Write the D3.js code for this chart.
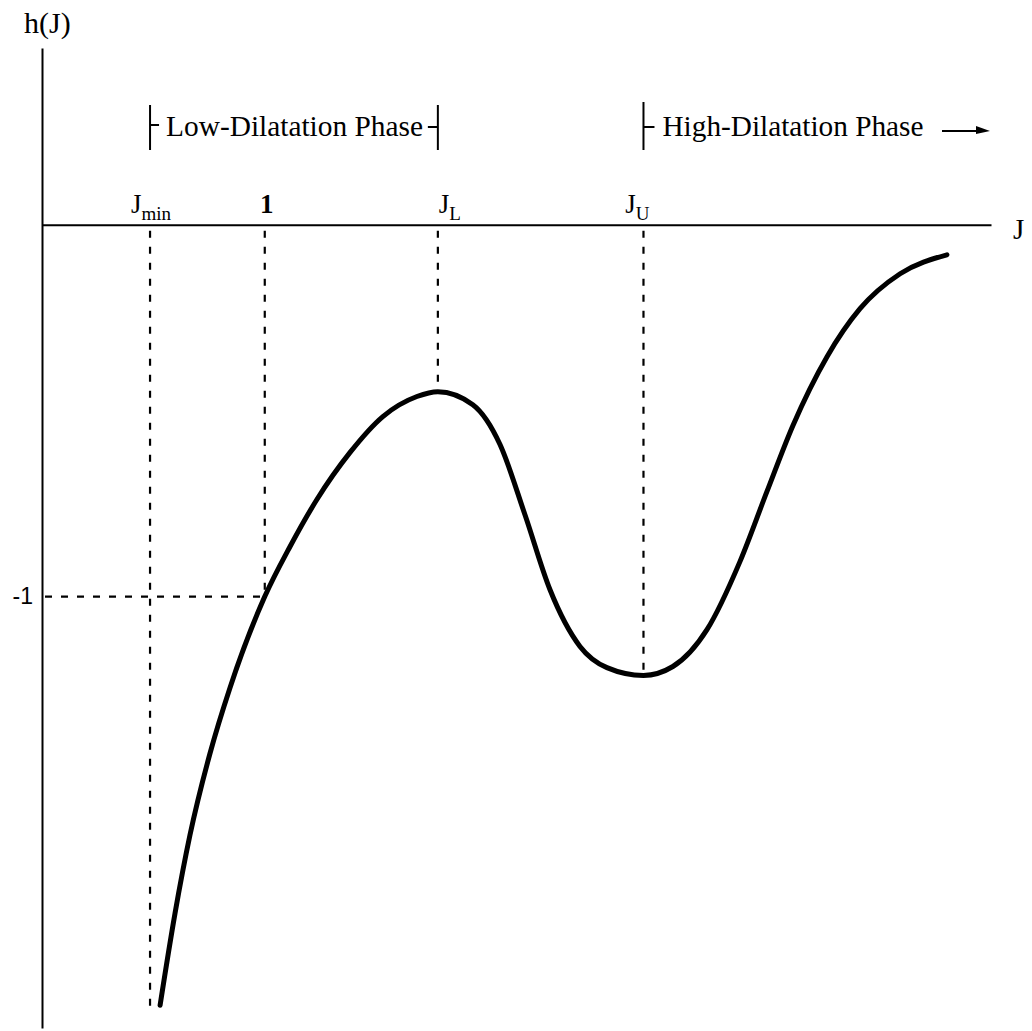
<!DOCTYPE html>
<html>
<head>
<meta charset="utf-8">
<script src="https://cdn.jsdelivr.net/npm/d3@7"></script>
<style>
  body { margin: 0; background: #fff; }
  svg { display: block; }
  .serif { font-family: "Liberation Serif", "DejaVu Serif", serif; fill: #000; }
</style>
</head>
<body>
<svg width="1032" height="1031"></svg>
<script>
// values
let jTicks = [0.485, 1, 1.777, 2.70];
let jTickMain = ["J", "1", "J", "J"];
let jTickSub = ["min", "", "L", "U"];
let hTicks = [-1];
let hTickLabels = ["-1"];
let curveJ = [0.530, 0.597, 0.664, 0.754, 0.844, 1.0, 1.113, 1.234, 1.382, 1.530, 1.683, 1.777,
              1.934, 2.056, 2.168, 2.280, 2.415, 2.536, 2.70,
              2.832, 2.985, 3.133, 3.254, 3.371, 3.524, 3.672, 3.852, 4.062];
let curveH = [-2.099, -1.852, -1.642, -1.422, -1.245, -1.0, -0.866, -0.739, -0.613, -0.516, -0.462, -0.449,
              -0.484, -0.591, -0.780, -0.981, -1.134, -1.191, -1.212,
              -1.188, -1.089, -0.906, -0.718, -0.540, -0.355, -0.226, -0.132, -0.081];
let peakH = -0.449;
let valleyH = -1.212;
let jminBottomH = -2.10;
let phaseNames = ["Low-Dilatation Phase", "High-Dilatation Phase"];

let svg = d3.select('svg');

let x = d3.scaleLinear().domain([0, 4.26]).range([42, 991]);
let y = d3.scaleLinear().domain([-2.16, 0.475]).range([1028, 48]);

// axes
let xAxis = svg.append('g')
    .attr('transform', `translate(0,${y(0)})`)
    .call(d3.axisTop(x).tickValues(jTicks).tickSize(0).tickSizeOuter(0).tickFormat(''));
xAxis.select('.domain').attr('stroke', '#000').attr('stroke-width', 2);

let yAxis = svg.append('g')
    .attr('transform', `translate(${x(0)},0)`)
    .call(d3.axisLeft(y).tickValues(hTicks).tickSize(0).tickSizeOuter(0).tickPadding(9)
        .tickFormat(function (d, i) { return hTickLabels[i]; }));
yAxis.select('.domain').attr('stroke', '#000').attr('stroke-width', 2);
yAxis.selectAll('text')
    .attr('font-family', '"Liberation Sans", Arial, sans-serif')
    .attr('font-size', 23)
    .attr('fill', '#000')
    .attr('dy', '0.32em');

// J tick labels with subscripts
let tickShift = [1, 2, 12, -6];
let tl = svg.selectAll('text.jt')
    .data(jTicks)
    .join('text')
    .attr('class', 'jt serif')
    .attr('x', function (d, i) { return x(d) + tickShift[i]; })
    .attr('y', y(0) - 12)
    .attr('text-anchor', 'middle')
    .attr('font-size', 27);
tl.append('tspan').text(function (d, i) { return jTickMain[i]; })
    .attr('font-weight', function (d, i) { return jTickMain[i] === '1' ? 'bold' : 'normal'; });
tl.append('tspan')
    .attr('dy', 7)
    .attr('font-size', 19)
    .text(function (d, i) { return jTickSub[i]; });

// axis titles
svg.append('text').attr('class', 'serif')
    .attr('x', 24).attr('y', 33)
    .attr('font-size', 30)
    .text('h(J)');
svg.append('text').attr('class', 'serif')
    .attr('x', 1013).attr('y', 239)
    .attr('font-size', 29)
    .text('J');

// dashed guides
let guides = [
    { x1: x(jTicks[0]), y1: y(0) + 6, x2: x(jTicks[0]), y2: y(jminBottomH) },
    { x1: x(jTicks[1]), y1: y(0) + 6, x2: x(jTicks[1]), y2: y(hTicks[0]) },
    { x1: x(jTicks[2]), y1: y(0) + 6, x2: x(jTicks[2]), y2: y(peakH) },
    { x1: x(jTicks[3]), y1: y(0) + 6, x2: x(jTicks[3]), y2: y(valleyH) },
    { x1: x(0) + 3, y1: y(hTicks[0]), x2: x(jTicks[1]), y2: y(hTicks[0]) }
];
svg.selectAll('line.guide')
    .data(guides)
    .join('line')
    .attr('class', 'guide')
    .attr('x1', function (d) { return d.x1; })
    .attr('y1', function (d) { return d.y1; })
    .attr('x2', function (d) { return d.x2; })
    .attr('y2', function (d) { return d.y2; })
    .attr('stroke', '#000')
    .attr('stroke-width', 2.2)
    .attr('stroke-dasharray', '7,9');

// h(J) curve
let pts = curveJ.map(function (d, i) { return [d, curveH[i]]; });
let line = d3.line()
    .x(function (d) { return x(d[0]); })
    .y(function (d) { return y(d[1]); })
    .curve(d3.curveMonotoneX);
svg.append('path')
    .datum(pts)
    .attr('d', line)
    .attr('fill', 'none')
    .attr('stroke', '#000')
    .attr('stroke-width', 5)
    .attr('stroke-linecap', 'round');

// phase brackets
let py = 127;
let br = svg.append('g').attr('stroke', '#000').attr('stroke-width', 2);
br.append('line').attr('x1', x(jTicks[0])).attr('x2', x(jTicks[0])).attr('y1', 105).attr('y2', 150);
br.append('line').attr('x1', x(jTicks[0])).attr('x2', x(jTicks[0]) + 9).attr('y1', py - 2).attr('y2', py - 2);
br.append('line').attr('x1', x(jTicks[2])).attr('x2', x(jTicks[2])).attr('y1', 105).attr('y2', 150);
br.append('line').attr('x1', x(jTicks[2]) - 10).attr('x2', x(jTicks[2])).attr('y1', py).attr('y2', py);
br.append('line').attr('x1', x(jTicks[3])).attr('x2', x(jTicks[3])).attr('y1', 102).attr('y2', 150);
br.append('line').attr('x1', x(jTicks[3])).attr('x2', x(jTicks[3]) + 11).attr('y1', py).attr('y2', py);
br.append('line').attr('x1', 942).attr('x2', 984).attr('y1', 131).attr('y2', 131);
svg.append('path').attr('d', 'M976,126 L990,131 L976,134 Z').attr('fill', '#000');

svg.append('text').attr('class', 'serif')
    .attr('x', x(jTicks[0]) + 16).attr('y', 136)
    .attr('font-size', 29)
    .attr('textLength', 257).attr('lengthAdjust', 'spacingAndGlyphs')
    .text(phaseNames[0]);
svg.append('text').attr('class', 'serif')
    .attr('x', x(jTicks[3]) + 19).attr('y', 136)
    .attr('font-size', 29)
    .attr('textLength', 261).attr('lengthAdjust', 'spacingAndGlyphs')
    .text(phaseNames[1]);
</script>
</body>
</html>
